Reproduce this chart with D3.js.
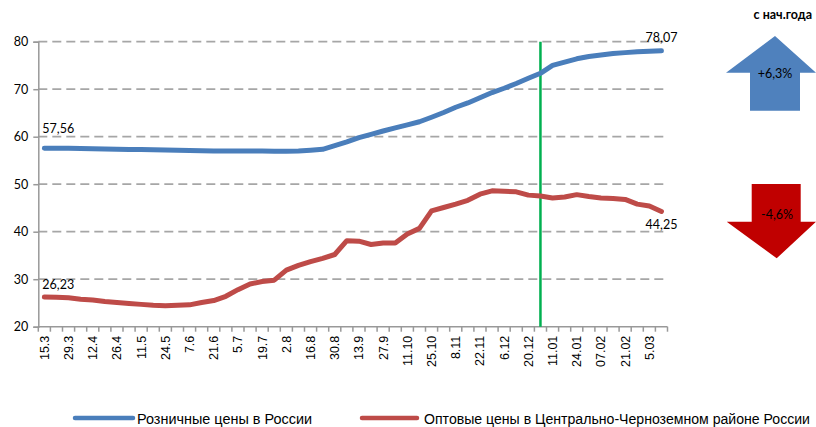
<!DOCTYPE html>
<html><head><meta charset="utf-8">
<script src="https://cdn.jsdelivr.net/npm/d3@7"></script>
<style>
html,body{margin:0;padding:0;background:#fff;}
svg{display:block;}
</style></head>
<body>
<svg id="chart" width="816" height="427"></svg>
<script>
// ---- data ----
const tickLabels = ["15.3","29.3","12.4","26.4","11.5","24.5","7.6","21.6","5.7","19.7","2.8","16.8","30.8","13.9","27.9","11.10","25.10","8.11","22.11","6.12","20.12","11.01","24.01","07.02","21.02","5.03"];
const retail = [57.56,57.55,57.55,57.5,57.45,57.4,57.35,57.3,57.3,57.25,57.2,57.15,57.1,57.05,57.0,57.0,57.0,57.0,57.0,56.95,56.95,57.0,57.15,57.35,58.1,58.9,59.8,60.5,61.2,61.85,62.5,63.15,64.1,65.1,66.2,67.1,68.2,69.3,70.2,71.2,72.3,73.35,75.0,75.7,76.4,76.9,77.2,77.5,77.7,77.9,78.0,78.07];
const wholesale = [26.23,26.2,26.1,25.8,25.6,25.3,25.1,24.9,24.7,24.5,24.4,24.5,24.6,25.1,25.5,26.4,27.8,29.0,29.5,29.8,31.9,32.9,33.7,34.4,35.2,38.1,38.0,37.3,37.6,37.6,39.5,40.7,44.4,45.1,45.8,46.6,47.9,48.6,48.5,48.4,47.7,47.5,47.1,47.3,47.8,47.4,47.1,47.0,46.8,45.8,45.4,44.25];
const yTicks = [20,30,40,50,60,70,80];
const seriesNames = ["Розничные цены в России","Оптовые цены в Центрально-Черноземном районе России"];
const changeLabels = ["+6,3%","-4,6%"];
const markerIndex = 41; // year boundary marker

// ---- layout ----
const svg = d3.select("#chart");
const pL = 38.3, pR = 667.5, pT = 41.7, pB = 326.7;
const idx = d3.range(retail.length);
const x = d3.scaleBand().domain(idx).range([pL, pR]).paddingInner(0).paddingOuter(0);
const cx = i => x(i) + x.bandwidth()/2;
const y = d3.scaleLinear().domain([20,80]).range([pB, pT]);
const numFont = "Lato, 'Open Sans', sans-serif";

// gridlines
svg.append("g").selectAll("line").data(yTicks.filter(v=>v>20)).join("line")
  .attr("x1", pL).attr("x2", pR).attr("y1", d=>y(d)).attr("y2", d=>y(d))
  .attr("stroke", "#a6a6a6").attr("stroke-width", 1.75).attr("stroke-dasharray", "9,5");

// y axis
const yAxis = svg.append("g").attr("transform", `translate(${pL},0)`)
  .call(d3.axisLeft(y).tickValues(yTicks).tickSize(5).tickPadding(5).tickFormat(d3.format("d")));
yAxis.select(".domain").attr("stroke", "#999").attr("stroke-width", 1.5);
yAxis.selectAll(".tick line").attr("stroke", "#999").attr("stroke-width", 1.5);
yAxis.selectAll(".tick text").attr("font-family", numFont).attr("font-size", 12.5).attr("fill", "#000");

// x axis line + ticks at category boundaries
svg.append("line").attr("x1", pL).attr("x2", pR).attr("y1", pB).attr("y2", pB)
  .attr("stroke", "#999").attr("stroke-width", 1.5);
svg.append("g").selectAll("line").data(d3.range(retail.length+1)).join("line")
  .attr("x1", d => pL + d*x.bandwidth()).attr("x2", d => pL + d*x.bandwidth())
  .attr("y1", pB).attr("y2", pB+5)
  .attr("stroke", "#999").attr("stroke-width", 1.5);

// x labels (every other category)
svg.append("g").selectAll("text").data(tickLabels).join("text")
  .attr("transform", (d,i) => `translate(${cx(i*2)},${pB+9}) rotate(-90)`)
  .attr("text-anchor", "end").attr("dy", "0.36em")
  .attr("font-family", "'Liberation Sans', Arial, sans-serif").attr("font-size", 12.5)
  .attr("fill", "#000").text(d => d);

// green marker line
svg.append("line").attr("x1", cx(markerIndex)).attr("x2", cx(markerIndex))
  .attr("y1", pT).attr("y2", pB).attr("stroke", "#00b050").attr("stroke-width", 2.5);

// lines
const line = d3.line().x((d,i)=>cx(i)).y(d=>y(d)).curve(d3.curveLinear);
const colors = ["#4a7ebb", "#be4b48"];
[retail, wholesale].forEach((s,k) => {
  svg.append("path").datum(s).attr("d", line).attr("fill", "none")
    .attr("stroke", colors[k]).attr("stroke-width", 5)
    .attr("stroke-linejoin", "round").attr("stroke-linecap", "round");
});

// data labels
const fmt = v => v.toFixed(2).replace(".", ",");
const last = retail.length - 1;
svg.append("text").attr("x", cx(0)-2).attr("y", y(retail[0]) - 15).attr("font-family", numFont)
  .attr("font-size", 12.5).text(fmt(retail[0]));
svg.append("text").attr("x", cx(0)-2).attr("y", y(wholesale[0]) - 8).attr("font-family", numFont)
  .attr("font-size", 12.5).text(fmt(wholesale[0]));
svg.append("text").attr("x", cx(last)+16).attr("y", y(retail[last]) - 9).attr("text-anchor","end")
  .attr("font-family", numFont).attr("font-size", 12.5).text(fmt(retail[last]));
svg.append("text").attr("x", cx(last)+16).attr("y", y(wholesale[last]) + 17).attr("text-anchor","end")
  .attr("font-family", numFont).attr("font-size", 12.5).text(fmt(wholesale[last]));

// "since start of year" panel
svg.append("text").attr("x", 812).attr("y", 19).attr("text-anchor","end")
  .attr("font-family", numFont).attr("font-weight", "bold").attr("font-size", 12.5).text("с нач.года");
svg.append("path").attr("d", "M775,36 L816,72.7 L800,72.7 L800,110.7 L750,110.7 L750,72.7 L726,72.7 Z").attr("fill", "#4f81bd");
svg.append("text").attr("x", 775).attr("y", 77.5).attr("text-anchor","middle")
  .attr("font-family", numFont).attr("font-size", 12.5).text(changeLabels[0]);
svg.append("path").attr("d", "M751.7,184 L800.7,184 L800.7,221.7 L816,221.7 L776.7,258.3 L726.7,221.7 L751.7,221.7 Z").attr("fill", "#c00000");
svg.append("text").attr("x", 777).attr("y", 219).attr("text-anchor","middle")
  .attr("font-family", numFont).attr("font-size", 12.5).text(changeLabels[1]);

// legend
const legFont = "'Liberation Sans Narrow', 'Arial Narrow', 'Liberation Sans', Arial, sans-serif";
const legend = [
  {x1:75, x2:133, tx:137, tl:175},
  {x1:362, x2:417, tx:424, tl:386}
];
legend.forEach((L,k) => {
  svg.append("line").attr("x1", L.x1).attr("x2", L.x2).attr("y1", 418).attr("y2", 418)
    .attr("stroke", colors[k]).attr("stroke-width", 4.5).attr("stroke-linecap","round");
  svg.append("text").attr("x", L.tx).attr("y", 423.5).attr("font-family", legFont).attr("font-size", 14)
    .attr("textLength", L.tl).attr("lengthAdjust", "spacingAndGlyphs").text(seriesNames[k]);
});
</script>
</body></html>
